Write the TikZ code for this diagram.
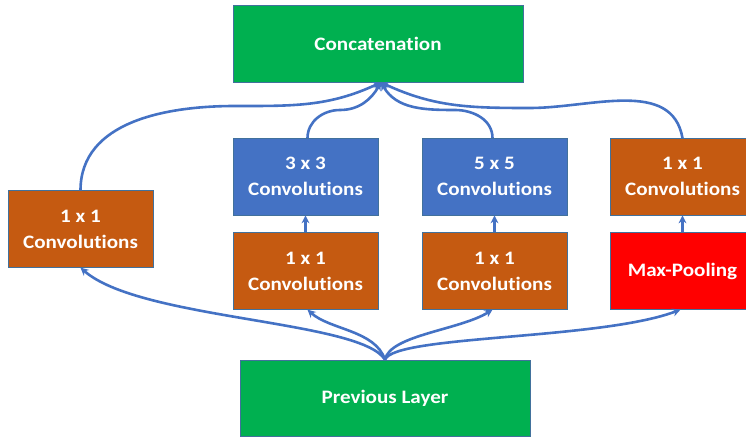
\documentclass[tikz,border=0pt]{standalone}
\usepackage{fontspec}
\setmainfont{Carlito}[Ligatures=NoCommon, FakeStretch=1.11]
\usetikzlibrary{arrows.meta,positioning}
\definecolor{boxgreen}{HTML}{00B050}
\definecolor{boxorange}{HTML}{C55A11}
\definecolor{boxblue}{HTML}{4472C4}
\definecolor{boxred}{HTML}{FF0000}
\definecolor{boxline}{HTML}{41719C}
\definecolor{linkblue}{HTML}{4472C4}
\tikzset{
  layer/.style = {draw=boxline, line width=0.8pt, text=white, align=center,
                  font=\fontsize{19}{26}\selectfont\bfseries, inner sep=0pt},
  conv/.style = {layer, fill=boxorange, minimum width=145pt, minimum height=76.5pt},
  link/.style = {draw=linkblue, line width=2.6pt, -{Stealth[length=8pt,width=8pt]}}
}
\begin{document}
\begin{tikzpicture}[x=1pt, y=-1pt]
    \useasboundingbox (0,0) rectangle (746,436);

    \node[layer, fill=boxgreen, minimum width=290pt, minimum height=77pt] (concat) at (378,43.5) {Concatenation};
    \node[layer, fill=boxgreen, minimum width=290pt, minimum height=76pt] (prev) at (385,398) {Previous Layer};

    \node[conv] (c1) at (80.5,229) {1 x 1\\Convolutions};
    \node[conv] (r3) at (305.5,271) {1 x 1\\Convolutions};
    \node[conv, fill=boxblue] (c3) [above=17pt of r3] {3 x 3\\Convolutions};
    \node[conv] (r5) at (494.5,271) {1 x 1\\Convolutions};
    \node[conv, fill=boxblue] (c5) [above=17pt of r5] {5 x 5\\Convolutions};
    \node[conv, fill=boxred] (pool) at (682.5,271) {Max-Pooling};
    \node[conv] (cp) [above=17pt of pool] {1 x 1\\Convolutions};

    % previous layer to first stage
    \path[link] (prev.north) .. controls (360,320) and (140,320) .. (c1.south);
    \path[link] (prev.north) .. controls (375,330) and (330,330) .. ([xshift=2pt]r3.south);
    \path[link] (prev.north) .. controls (390,335) and (460,330) .. ([xshift=-2pt]r5.south);
    \path[link] (prev.north) .. controls (395,335) and (600,340) .. ([xshift=-2pt]pool.south);

    % reductions to big convolutions
    \path[link] (r3) -- (c3);
    \path[link] (r5) -- (c5);
    \path[link] (pool) -- (cp);

    % everything into concatenation
    \path[link] (c1.north) to[out=90, in=180] (235,106) to[out=0, in=-155] ([xshift=3pt]concat.south);
    \path[link] ([xshift=2pt]c3.north) to[out=90, in=180] (340,110) to[out=0, in=-120] ([xshift=3pt]concat.south);
    \path[link] ([xshift=-2pt]c5.north) to[out=90, in=0] (455,110) to[out=180, in=-60] ([xshift=3pt]concat.south);
    \path[link] (cp.north) to[out=100, in=0] (530,108) to[out=180, in=-25] ([xshift=3pt]concat.south);
\end{tikzpicture}
\end{document}
